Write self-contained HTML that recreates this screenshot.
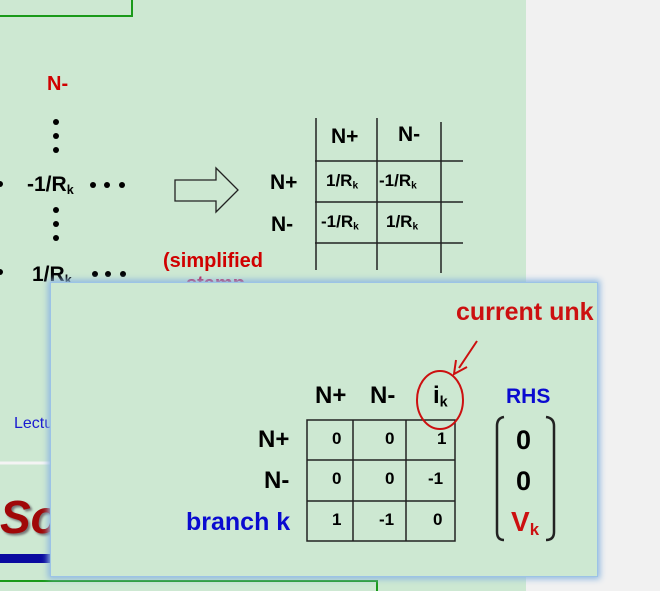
<!DOCTYPE html>
<html><head><style>
body{margin:0;width:660px;height:591px;overflow:hidden;background:#f1f1f1;font-family:"Liberation Sans",Arial,sans-serif;}
#bg{position:absolute;left:0;top:0;width:526px;height:591px;background:#cde8d2;}
.t{position:absolute;font-weight:bold;white-space:nowrap;line-height:1;}
sub{font-size:60%;vertical-align:-0.25em;}
#panel{position:absolute;left:50px;top:282px;width:548px;height:295px;background:#cde8d2;box-shadow:0 0 6px 2px #8fb8e0;border:1px solid #9cc3e6;box-sizing:border-box;}
</style></head><body>
<div id="bg"></div>
<svg width="660" height="591" style="position:absolute;left:0;top:0">
<polyline points="0,16 132,16 132,0" fill="none" stroke="#1a9a1a" stroke-width="2"/>
<g fill="#000">
<circle cx="56" cy="122" r="3"/><circle cx="56" cy="136" r="3"/><circle cx="56" cy="150" r="3"/>
<circle cx="56" cy="210" r="3"/><circle cx="56" cy="224" r="3"/><circle cx="56" cy="238" r="3"/>
<circle cx="93" cy="185" r="3"/><circle cx="107" cy="185" r="3"/><circle cx="122" cy="185" r="3"/>
<circle cx="95" cy="274" r="3"/><circle cx="108" cy="274" r="3"/><circle cx="123" cy="274" r="3"/>
<circle cx="0" cy="184" r="3"/><circle cx="0" cy="272" r="3"/>
</g>
<polygon points="175,180 216,180 216,168 238,190 216,212 216,201 175,201" fill="none" stroke="#222" stroke-width="1.3"/>
<g stroke="#222" stroke-width="1.5">
<line x1="316" y1="118" x2="316" y2="270"/><line x1="377" y1="118" x2="377" y2="270"/><line x1="441" y1="122" x2="441" y2="273"/>
<line x1="315" y1="161" x2="463" y2="161"/><line x1="315" y1="202" x2="463" y2="202"/><line x1="315" y1="243" x2="463" y2="243"/>
</g>
<line x1="0" y1="463" x2="50" y2="463" stroke="#f4f4f4" stroke-width="3"/>
<rect x="0" y="554" width="50" height="9" fill="#0a0aa0"/>
<polyline points="0,581 377,581 377,591" fill="none" stroke="#1a9a1a" stroke-width="2"/>
</svg>
<div class="t" style="left:47px;top:74px;font-size:20px;color:#d00000">N-</div>
<div class="t" style="left:27px;top:174px;font-size:21px">-1/R<sub>k</sub></div>
<div class="t" style="left:32px;top:264px;font-size:21px">1/R<sub>k</sub></div>
<div class="t" style="left:163px;top:251px;font-size:20px;color:#d00000">(simplified</div>
<div class="t" style="left:186px;top:274px;font-size:20px;color:#c0104a">stamp</div>
<div class="t" style="left:331px;top:126px;font-size:21px">N+</div>
<div class="t" style="left:398px;top:124px;font-size:21px">N-</div>
<div class="t" style="left:270px;top:172px;font-size:21px">N+</div>
<div class="t" style="left:271px;top:214px;font-size:21px">N-</div>
<div class="t" style="left:326px;top:172px;font-size:17px">1/R<sub>k</sub></div>
<div class="t" style="left:379px;top:172px;font-size:17px">-1/R<sub>k</sub></div>
<div class="t" style="left:321px;top:213px;font-size:17px">-1/R<sub>k</sub></div>
<div class="t" style="left:386px;top:213px;font-size:17px">1/R<sub>k</sub></div>
<div class="t" style="left:14px;top:416px;font-size:16px;font-weight:normal;color:#1a1ad0">Lecture</div>
<div class="t" style="left:0px;top:494px;font-size:46px;font-style:italic;color:#a00808;text-shadow:2px 2px 2px #777">So</div>
<div id="panel"></div>
<svg width="660" height="591" style="position:absolute;left:0;top:0">
<g stroke="#222" stroke-width="1.5" fill="none">
<rect x="307" y="420" width="148" height="121"/>
<line x1="353" y1="420" x2="353" y2="541"/><line x1="406" y1="420" x2="406" y2="541"/>
<line x1="307" y1="460" x2="455" y2="460"/><line x1="307" y1="501" x2="455" y2="501"/>
<path d="M504,417 Q497,418 497,426 L497,532 Q497,540 504,540" stroke-width="2.5"/>
<path d="M546,417 Q554,418 554,426 L554,532 Q554,540 546,540" stroke-width="2.5"/>
</g>
<ellipse cx="440" cy="400" rx="23" ry="29" fill="none" stroke="#cc1010" stroke-width="2"/>
<line x1="477" y1="341" x2="459" y2="368" stroke="#cc1010" stroke-width="2"/>
<polyline points="456,360 454,374 467,367" fill="none" stroke="#cc1010" stroke-width="2"/>
</svg>
<div class="t" style="left:456px;top:300px;font-size:25px;color:#cc1010">current unk</div>
<div class="t" style="left:315px;top:384px;font-size:24px">N+</div>
<div class="t" style="left:370px;top:384px;font-size:24px">N-</div>
<div class="t" style="left:433px;top:384px;font-size:24px">i<sub>k</sub></div>
<div class="t" style="left:506px;top:386px;font-size:21px;color:#0a0ad0">RHS</div>
<div class="t" style="left:258px;top:428px;font-size:24px">N+</div>
<div class="t" style="left:264px;top:469px;font-size:24px">N-</div>
<div class="t" style="left:186px;top:510px;font-size:25px;color:#0a0ad0">branch k</div>
<div class="t" style="left:332px;top:430px;font-size:17px">0</div>
<div class="t" style="left:385px;top:430px;font-size:17px">0</div>
<div class="t" style="left:437px;top:430px;font-size:17px">1</div>
<div class="t" style="left:332px;top:470px;font-size:17px">0</div>
<div class="t" style="left:385px;top:470px;font-size:17px">0</div>
<div class="t" style="left:428px;top:470px;font-size:17px">-1</div>
<div class="t" style="left:332px;top:511px;font-size:17px">1</div>
<div class="t" style="left:379px;top:511px;font-size:17px">-1</div>
<div class="t" style="left:433px;top:511px;font-size:17px">0</div>
<div class="t" style="left:516px;top:427px;font-size:27px">0</div>
<div class="t" style="left:516px;top:468px;font-size:27px">0</div>
<div class="t" style="left:511px;top:508px;font-size:28px;color:#cc1010">V<sub>k</sub></div>
</body></html>
